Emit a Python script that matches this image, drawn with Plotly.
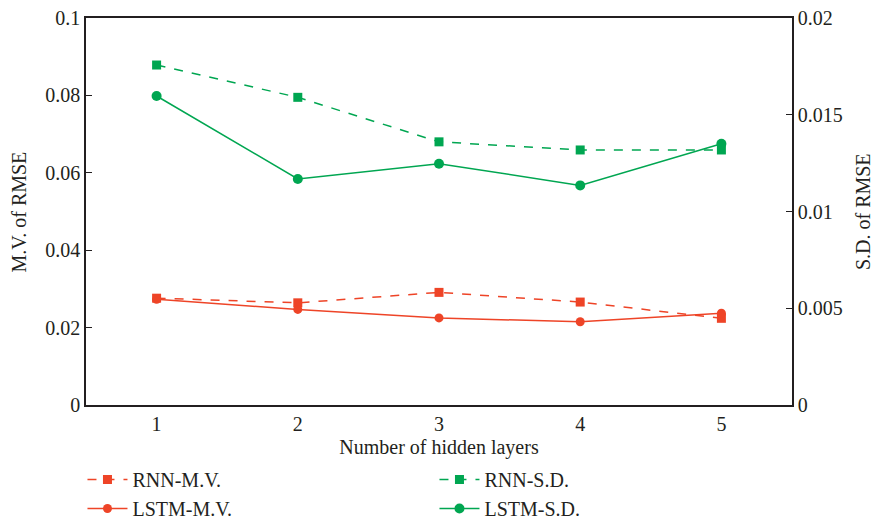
import plotly.graph_objects as go

layers = [1, 2, 3, 4, 5]
rnn_mv = [0.0276, 0.0264, 0.0291, 0.0266, 0.0224]
lstm_mv = [0.0273, 0.0247, 0.0225, 0.0215, 0.0237]
rnn_sd = [0.01757, 0.01590, 0.01360, 0.01318, 0.01318]
lstm_sd = [0.01597, 0.01168, 0.01247, 0.01135, 0.01350]

red = "#EE4427"
green = "#00A651"
font_family = "Liberation Serif"
ink = "#231F20"
fs = 20

fig = go.Figure()
fig.add_trace(go.Scatter(x=layers, y=rnn_mv, name="RNN-M.V.", mode="lines+markers",
                         line=dict(color=red, width=1.5, dash="dash"),
                         marker=dict(symbol="square", size=9, color=red)))
fig.add_trace(go.Scatter(x=layers, y=rnn_sd, name="RNN-S.D.", mode="lines+markers", yaxis="y2",
                         line=dict(color=green, width=1.5, dash="dash"),
                         marker=dict(symbol="square", size=9, color=green)))
fig.add_trace(go.Scatter(x=layers, y=lstm_mv, name="LSTM-M.V.", mode="lines+markers",
                         line=dict(color=red, width=1.5),
                         marker=dict(symbol="circle", size=9, color=red)))
fig.add_trace(go.Scatter(x=layers, y=lstm_sd, name="LSTM-S.D.", mode="lines+markers", yaxis="y2",
                         line=dict(color=green, width=1.5),
                         marker=dict(symbol="circle", size=10, color=green)))

fig.update_layout(
    width=875, height=528,
    margin=dict(l=86, r=83, t=18, b=123, autoexpand=False),
    plot_bgcolor="white", paper_bgcolor="white",
    font=dict(family=font_family, size=fs, color=ink),
    xaxis=dict(range=[0.5, 5.5], tickvals=layers, showgrid=False, zeroline=False,
               showline=True, linecolor=ink, linewidth=1.5, mirror=True, ticks="",
               tickfont=dict(size=fs),
               title=dict(text="Number of hidden layers", standoff=6, font=dict(size=fs))),
    yaxis=dict(range=[0, 0.1], tickvals=[0, 0.02, 0.04, 0.06, 0.08, 0.1],
               ticktext=["0", "0.02", "0.04", "0.06", "0.08", "0.1"],
               showgrid=False, zeroline=False, showline=True, linecolor=ink, linewidth=1.5,
               ticks="inside", ticklen=6, tickcolor=ink, tickfont=dict(size=fs)),
    yaxis2=dict(range=[0, 0.02], overlaying="y", side="right",
                tickvals=[0, 0.005, 0.01, 0.015, 0.02],
                ticktext=["0", "0.005", "0.01", "0.015", "0.02"],
                showgrid=False, zeroline=False, showline=True, linecolor=ink, linewidth=1.5,
                ticks="inside", ticklen=6, tickcolor=ink, tickfont=dict(size=fs)),
    legend=dict(orientation="h", x=-0.005, xanchor="left", y=-0.3178, yanchor="bottom",
                entrywidth=297, entrywidthmode="pixels", font=dict(size=fs),
                traceorder="normal", tracegroupgap=0, itemwidth=40),
    annotations=[
        dict(text="M.V. of RMSE", xref="paper", yref="paper", x=-0.095, y=0.5,
             xanchor="center", yanchor="middle", textangle=-90, showarrow=False,
             font=dict(size=fs)),
        dict(text="S.D. of RMSE", xref="paper", yref="paper", x=1.10, y=0.5,
             xanchor="center", yanchor="middle", textangle=-90, showarrow=False,
             font=dict(size=fs)),
    ],
)

fig.write_html("out.html")
